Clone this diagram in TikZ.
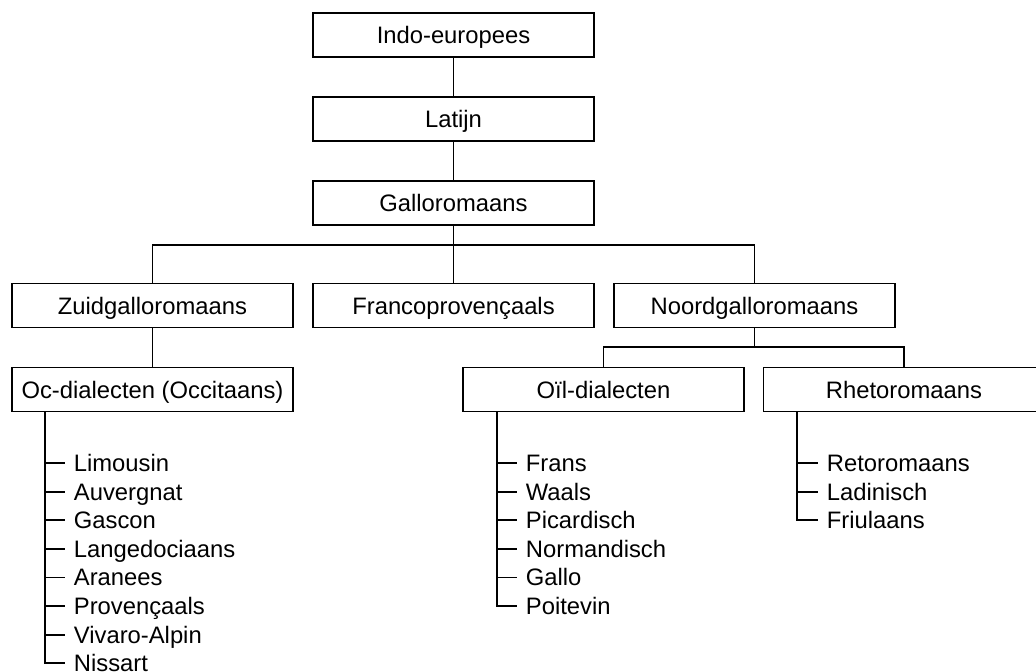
\documentclass[tikz,border=0pt]{standalone}
\usepackage{fontspec}
\setmainfont{Liberation Sans}
\usepackage{tikz}
\usetikzlibrary{positioning}

\begin{document}
\begin{tikzpicture}[
  x=0.5pt, y=-0.5pt,
  line width=0.9pt,
  box/.style={rectangle, draw, minimum width=140.5pt, minimum height=22pt,
              inner sep=0pt, text height=8.5pt, text depth=0pt,
              font=\fontsize{11.9}{14}\selectfont},
  leaf/.style={anchor=west, inner xsep=4pt, inner ysep=0pt,
               text height=8.5pt, text depth=0pt,
               font=\fontsize{11.9}{14}\selectfont},
  link/.style={line width=0.9pt}
]
\clip (0,0) rectangle (1036,671);
\useasboundingbox (0,0) rectangle (1036,671);

% stamboom
\node[box] (indo)   at (453.5,35)    {Indo-europees};
\node[box] (latijn) at (453.5,119)   {Latijn};
\node[box] (gallo)  at (453.5,203)   {Galloromaans};
\node[box] (zuid)   at (152.5,305.5) {Zuidgalloromaans};
\node[box] (franco) at (453.5,305.5) {Francoprovençaals};
\node[box] (noord)  at (754.5,305.5) {Noordgalloromaans};
\node[box] (oc)     at (152.5,389.5) {Oc-dialecten (Occitaans)};
\node[box] (oil)    at (603.5,389.5) {Oïl-dialecten};
\node[box] (rheto)  at (904,389.5)   {Rhetoromaans};

\coordinate (gsplit) at (453.5,245);
\coordinate (nsplit) at (754.5,347);

\draw[link] (indo) -- (latijn);
\draw[link] (latijn) -- (gallo);
\draw[link] (gallo) -- (gsplit);
\draw[link] (zuid.north) |- (gsplit) -| (noord.north);
\draw[link] (gsplit) -- (franco);
\draw[link] (zuid) -- (oc);
\draw[link] (noord) -- (nsplit);
\draw[link] (oil.north) |- (nsplit) -| (rheto.north);

% dialecten
\foreach \name [count=\i] in {Limousin, Auvergnat, Gascon, Langedociaans,
    Aranees, Provençaals, Vivaro-Alpin, Nissart}
  \node[leaf] (oc\i) at (65,463+28.6*\i-28.6) {\name};
\foreach \name [count=\i] in {Frans, Waals, Picardisch, Normandisch,
    Gallo, Poitevin}
  \node[leaf] (oil\i) at (517,463+28.6*\i-28.6) {\name};
\foreach \name [count=\i] in {Retoromaans, Ladinisch, Friulaans}
  \node[leaf] (rheto\i) at (818,463+28.6*\i-28.6) {\name};

\coordinate (octrunk)  at ([xshift=17pt]oc.south west);
\coordinate (oiltrunk) at ([xshift=17.5pt]oil.south west);
\coordinate (rhtrunk)  at ([xshift=17pt]rheto.south west);

\draw[link] (octrunk) |- (oc8.west);
\foreach \i in {1,...,7} \draw[link] (octrunk |- oc\i.west) -- (oc\i.west);
\draw[link] (oiltrunk) |- (oil6.west);
\foreach \i in {1,...,5} \draw[link] (oiltrunk |- oil\i.west) -- (oil\i.west);
\draw[link] (rhtrunk) |- (rheto3.west);
\foreach \i in {1,2} \draw[link] (rhtrunk |- rheto\i.west) -- (rheto\i.west);
\end{tikzpicture}
\end{document}
